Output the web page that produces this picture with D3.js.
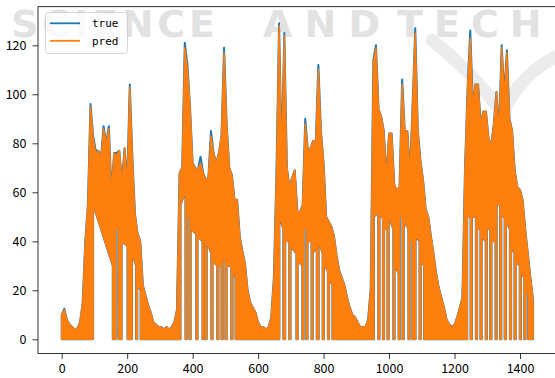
<!DOCTYPE html>
<html><head><meta charset="utf-8">
<script src="https://cdn.jsdelivr.net/npm/d3@7"></script>
<style>body{margin:0;background:#fff}svg{display:block}</style>
</head><body>
<svg id="c" width="555" height="378"></svg>
<script>
// ---- data ----
const sampleIndex = d3.range(0, 1441, 8);   // time index of the envelope samples
const seriesNames = ["true", "pred"];
const xTicks = [0, 200, 400, 600, 800, 1000, 1200, 1400];
const yTicks = [0, 20, 40, 60, 80, 100, 120];

// upper envelope of the "true" series
const trueHigh = [
10,12.5,8,6,5,4,4.5,7,15,40,55,96,83,77,77,74,87,80,87,60,
76,76,77,64,78,64,104,74,51,43,40,22,18,14,11,7,6,5,5,4,
5,4,5,7,12,68,70,121,112,95,72,70,69,74.5,68,65,66,85,76,72,
76,83,119,88,70,67,57,57,42,36,31,20,15,13,11,7,5,5,4,5,
9,25,68,129,74,125,70,62,66,69,52,52,55,90,77,78,81,80,112,85,
72,50,48,46,42,34,28,25,22,17,13,10,9,7,5,5,5,8,21,114,
120,94,91,85,66,84,84,63,61,62,106,85,85,68,96,127,85,73,65,53,
50,42,35,27,21,17,13,8,6,5,6,9,13,17,70,103,126,96,104,104,
88,93,93,82,79,88,101,85,120,100,118,90,85,69,62,61,57,45,35,25,
16];
// upper envelope of the "pred" series
const predHigh = [
10,12,8,6,5,4,4.5,7,15,40,55,95,82,76,77,74,86,80,86,60,
76,75,77,64,78,64,103,74,51,43,40,22,18,14,11,7,6,5,5,4,
5,4,5,7,12,68,70,119,110,95,72,70,69,72,68,65,66,83,76,72,
76,83,117,88,70,67,57,57,42,36,31,20,15,13,11,7,5,5,4,5,
9,25,68,128,74,124,70,62,66,69,52,52,55,88,77,78,81,80,110,85,
72,50,48,46,42,34,28,25,22,17,13,10,9,7,5,5,5,8,21,113,
119,94,91,85,66,84,84,63,61,62,104,85,85,68,96,125,85,73,65,53,
50,42,35,27,21,17,13,8,6,5,6,9,13,17,70,103,123,96,104,104,
88,93,93,82,79,88,101,85,119,100,117,90,85,69,62,61,57,45,35,25,
16];
// stretches where the series never falls back to zero (index range, lowest value at start / end)
const gapStart    = [96,165,183,215,231, 363,382,394,415,434,443,461,479,492,504,522, 665,683,699,721,739,751,767,785,801,817, 954,971,985,999,1017,1033,1045,1063,1081,1097, 1239,1253,1269,1283,1299,1313,1329,1343,1357,1373,1387,1403,1417];
const gapEnd      = [156,173,201,227,241, 378,390,411,430,439,457,475,488,500,518,531, 677,695,717,735,747,763,779,797,813,827, 967,981,995,1013,1029,1041,1059,1071,1093,1107, 1249,1265,1279,1295,1309,1325,1339,1353,1369,1383,1399,1413,1425];
const gapLowStart = [55,45,40,35,22, 55,50,45,42,40,40,32,30,32,30,28, 50,40,38,32,45,40,35,40,30,25, 50,50,45,50,30,50,48,40,42,32, 50,50,45,42,45,40,55,50,48,38,32,28,20];
const gapLowEnd   = [30,45,38,30,20, 60,50,43,40,40,35,30,30,32,30,25, 45,40,35,30,45,40,38,35,28,22, 52,50,45,45,27,50,45,40,40,30, 50,50,45,40,45,40,55,50,45,35,30,25,18];

const colors = {"true": "#1f77b4", "pred": "#ff7f0e"};

// ---- layout ----
const svg = d3.select("#c");
const W = 555, H = 378;
const plot = {left: 38, top: 6.7, right: 556, bottom: 353.5};
const x = d3.scaleLinear().domain([0, 1400]).range([61.7, 520]);
const y = d3.scaleLinear().domain([0, 120]).range([339.3, 45.3]);

svg.append("rect").attr("width", W).attr("height", H).attr("fill", "#fff");

// watermark (background)
const wm = svg.append("g").attr("fill", "#e2e2e2").attr("font-family", "DejaVu Sans").attr("font-weight", "bold").attr("font-size", 38);
wm.append("text").attr("x", 11).attr("y", 37).attr("textLength", 204).attr("lengthAdjust", "spacing").text("SCIENCE");
wm.append("text").attr("x", 263).attr("y", 37).attr("textLength", 117).attr("lengthAdjust", "spacing").text("AND");
wm.append("text").attr("x", 397).attr("y", 37).attr("letter-spacing", 11).text("TECHNOLOGY");
svg.append("path").attr("d", "M432,40 Q470,70 500,110 M505,108 Q525,70 560,55")
  .attr("fill", "none").attr("stroke", "#ececec").attr("stroke-width", 13).attr("stroke-linecap", "round");

svg.append("clipPath").attr("id", "clip").append("rect")
  .attr("x", plot.left).attr("y", plot.top).attr("width", plot.right - plot.left).attr("height", plot.bottom - plot.top);

// lower boundary: zero, except inside the gaps
const lowerPts = [[sampleIndex[0], 0]];
gapStart.forEach((a, i) => {
  lowerPts.push([a, 0], [a, gapLowStart[i]], [gapEnd[i], gapLowEnd[i]], [gapEnd[i], 0]);
});
lowerPts.push([sampleIndex[sampleIndex.length - 1], 0]);

const line = d3.line().x(d => x(d[0])).y(d => y(d[1]));
function envelopePath(high) {
  const upper = sampleIndex.map((t, i) => [t, high[i]]);
  return line(upper.concat(lowerPts.slice().reverse())) + "Z";
}

const gData = svg.append("g").attr("clip-path", "url(#clip)");
gData.append("path").attr("d", envelopePath(trueHigh))
  .attr("fill", colors["true"]).attr("stroke", colors["true"]).attr("stroke-width", 2.0).attr("stroke-linejoin", "round");
gData.append("path").attr("d", envelopePath(predHigh))
  .attr("fill", colors["pred"]).attr("stroke", colors["pred"]).attr("stroke-width", 1.4).attr("stroke-linejoin", "round");

// axes
const tickFont = "'Noto Sans CJK SC', 'DejaVu Sans', sans-serif";
const gx = svg.append("g").attr("transform", `translate(0,${plot.bottom})`)
  .call(d3.axisBottom(x).tickValues(xTicks).tickSize(5.5).tickPadding(5.5).tickFormat(d3.format("d")));
const gy = svg.append("g").attr("transform", `translate(${plot.left},0)`)
  .call(d3.axisLeft(y).tickValues(yTicks).tickSize(5.5).tickPadding(6).tickFormat(d3.format("d")));
[gx, gy].forEach(g => {
  g.select(".domain").remove();
  g.selectAll("line").attr("stroke", "#000").attr("stroke-width", 0.8);
  g.selectAll("text").attr("font-family", tickFont).attr("font-size", 12.5).attr("fill", "#000");
});

// frame
svg.append("rect").attr("x", plot.left).attr("y", plot.top)
  .attr("width", plot.right - plot.left).attr("height", plot.bottom - plot.top)
  .attr("fill", "none").attr("stroke", "#000").attr("stroke-width", 0.8);

// legend
const lg = svg.append("g");
lg.append("rect").attr("x", 45.5).attr("y", 12.5).attr("width", 82).attr("height", 41).attr("rx", 3)
  .attr("fill", "#fff").attr("fill-opacity", 0.8).attr("stroke", "#cccccc").attr("stroke-width", 0.8);
seriesNames.forEach((s, i) => {
  const yy = 23.3 + i * 17.5;
  lg.append("line").attr("x1", 50).attr("x2", 80).attr("y1", yy).attr("y2", yy)
    .attr("stroke", colors[s]).attr("stroke-width", 1.8);
  lg.append("text").attr("x", 92).attr("y", yy + 4).attr("font-family", "'DejaVu Sans Mono', monospace")
    .attr("font-size", 11).attr("fill", "#000").text(s);
});
</script>
</body></html>
